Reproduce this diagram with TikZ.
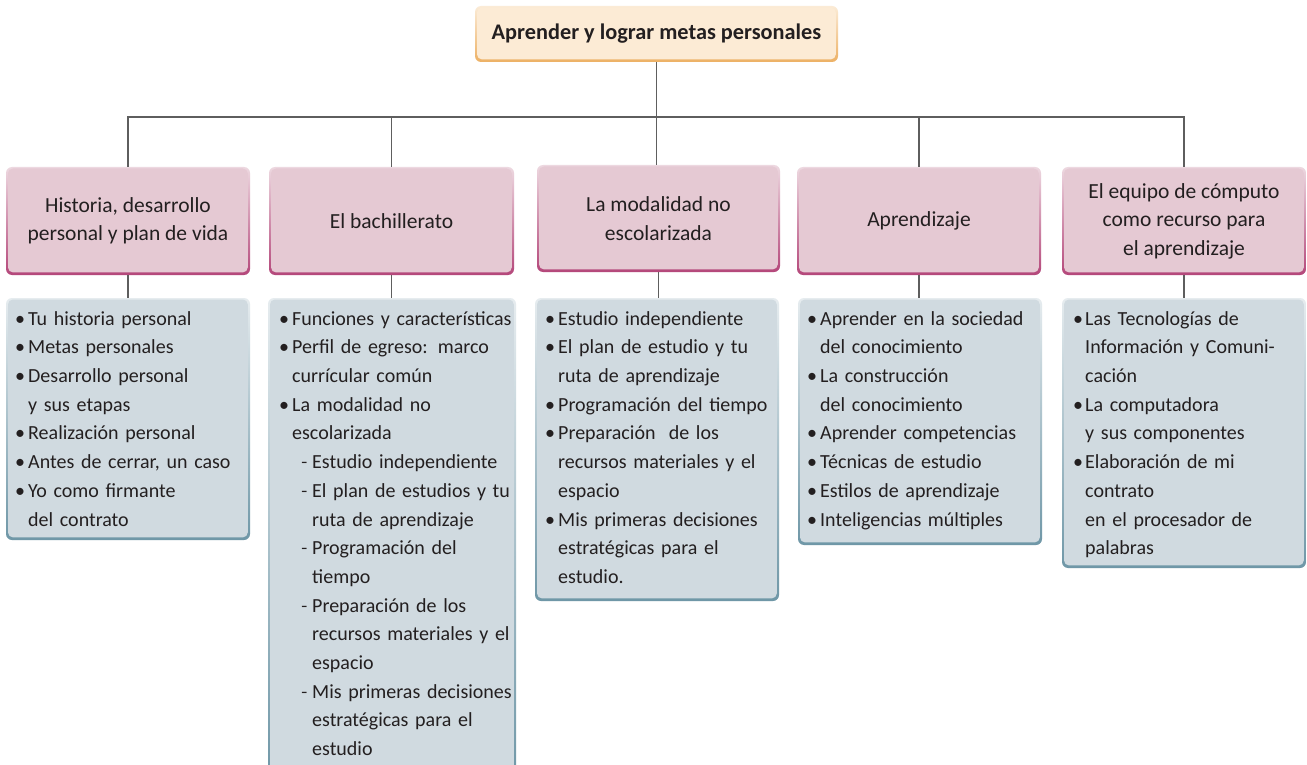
\documentclass[tikz,border=0pt]{standalone}
\usepackage{fontspec}
\setmainfont{Carlito}
\usetikzlibrary{calc}
\definecolor{pinkF}{HTML}{E5C9D3}
\definecolor{pinkT}{HTML}{EDD8E0}
\definecolor{pinkB}{HTML}{B4477A}
\definecolor{blueF}{HTML}{D0DAE0}
\definecolor{blueT}{HTML}{E6ECEF}
\definecolor{blueB}{HTML}{6F97A7}
\definecolor{titF}{HTML}{FCEBD5}
\definecolor{titT}{HTML}{FBEBD6}
\definecolor{titB}{HTML}{EDB165}
\definecolor{txt}{HTML}{231F20}
\definecolor{lineC}{HTML}{5E5E5E}
\newcommand\bxb[2][13pt]{\strut\makebox[#1][l]{•}#2}
\newcommand\bxc[2][13pt]{\strut\hspace*{#1}#2}
\newcommand\bxd[1]{\strut\hspace*{22pt}\makebox[11pt][l]{\scalebox{0.65}[1]{–}}#1}
\newcommand\bxe[1]{\strut\hspace*{33pt}#1}
\tikzset{
  framed/.style n args={3}{rounded corners=6pt, top color=#1, bottom color=#2, inner sep=0pt,
    path picture={\fill[#3, rounded corners=5pt]
      ([shift={(2pt,-1.5pt)}]path picture bounding box.north west) rectangle
      ([shift={(-2.2pt,2.6pt)}]path picture bounding box.south east);}},
  titlebox/.style={framed={titT}{titB}{titF}, text=txt, font=\fontsize{22.3}{26}\selectfont\bfseries},
  headbox/.style={framed={pinkT}{pinkB}{pinkF}, text=txt, align=center,
    font=\fontsize{21.5}{28.5}\selectfont},
  listbox/.style={framed={blueT}{blueB}{blueF}},
  listtext/.style={anchor=north west, inner sep=0pt, text width=240pt, align=left, text=txt,
    font=\fontsize{20}{28.7}\selectfont},
  conn/.style={draw=lineC, line width=1.8pt},
}
\begin{document}
\begin{tikzpicture}[x=1pt,y=-1pt]
\clip (0,0) rectangle (1307,765);
\fill[white] (0,0) rectangle (1307,765);

\coordinate (bus) at (0,117);

\node[titlebox, minimum width=363pt, minimum height=56pt] (t) at (656.5,34) {Aprender y lograr metas personales};

\node[headbox, minimum width=244pt, minimum height=108pt] (p1) at (128,221) {Historia, desarrollo\\personal y plan de vida};
\node[headbox, minimum width=245pt, minimum height=108pt] (p2) at (391.5,221) {El bachillerato};
\node[headbox, minimum width=243pt, minimum height=107pt] (p3) at (658.5,218.5) {La modalidad no\\escolarizada};
\node[headbox, minimum width=244pt, minimum height=108pt] (p4) at (919,221) {Aprendizaje};
\node[headbox, minimum width=244pt, minimum height=108pt] (p5) at (1184,221) {El equipo de cómputo\\como recurso para\\el aprendizaje};

\node[listbox, minimum width=244pt, minimum height=242pt] (b1) at (128,419) {};
\node[listbox, minimum width=248pt, minimum height=482pt] (b2) at (392,539) {};
\node[listbox, minimum width=244pt, minimum height=303pt] (b3) at (657,449.5) {};
\node[listbox, minimum width=244pt, minimum height=247pt] (b4) at (920,421.5) {};
\node[listbox, minimum width=244pt, minimum height=270pt] (b5) at (1184,433) {};

\draw[conn] (t.south) -- (t.south |- p3.north);
\draw[conn] (p1.north) -- (p1.north |- bus) -- (p5.north |- bus) -- (p5.north);
\draw[conn] (p2.north) -- (p2.north |- bus);
\draw[conn] (p4.north) -- (p4.north |- bus);
\draw[conn] (p1.south) -- (p1.south |- b1.north);
\draw[conn] (p2.south) -- (p2.south |- b2.north);
\draw[conn] (p3.south) -- (p3.south |- b3.north);
\draw[conn] (p4.south) -- (p4.south |- b4.north);
\draw[conn] (p5.south) -- (p5.south |- b5.north);

\node[listtext] (l1) at (15,304.9) {%
\bxb{Tu historia personal}\\
\bxb{Metas personales}\\
\bxb{Desarrollo personal}\\
\bxc{y sus etapas}\\
\bxb{Realización personal}\\
\bxb{Antes de cerrar, un caso}\\
\bxb{Yo como firmante}\\
\bxc{del contrato}};

\node[listtext] (l2) at (279,304.9) {%
\bxb{Funciones y características}\\
\bxb{Perfil de egreso: marco}\\
\bxc{currícular común}\\
\bxb{La modalidad no}\\
\bxc{escolarizada}\\
\bxd{Estudio independiente}\\
\bxd{El plan de estudios y tu}\\
\bxe{ruta de aprendizaje}\\
\bxd{Programación del}\\
\bxe{tiempo}\\
\bxd{Preparación de los}\\
\bxe{recursos materiales y el}\\
\bxe{espacio}\\
\bxd{Mis primeras decisiones}\\
\bxe{estratégicas para el}\\
\bxe{estudio}};

\node[listtext] (l3) at (545,304.9) {%
\bxb{Estudio independiente}\\
\bxb{El plan de estudio y tu}\\
\bxc{ruta de aprendizaje}\\
\bxb{Programación del tiempo}\\
\bxb{Preparación\ \ de los}\\
\bxc{recursos materiales y el}\\
\bxc{espacio}\\
\bxb{Mis primeras decisiones}\\
\bxc{estratégicas para el}\\
\bxc{estudio.}};

\node[listtext] (l4) at (807,304.9) {%
\bxb{Aprender en la sociedad}\\
\bxc{del conocimiento}\\
\bxb{La construcción}\\
\bxc{del conocimiento}\\
\bxb{Aprender competencias}\\
\bxb{Técnicas de estudio}\\
\bxb{Estilos de aprendizaje}\\
\bxb{Inteligencias múltiples}};

\node[listtext] (l5) at (1073,304.9) {%
\bxb[12pt]{Las Tecnologías de}\\
\bxc[12pt]{Información y Comuni-}\\
\bxc[12pt]{cación}\\
\bxb[12pt]{La computadora}\\
\bxc[12pt]{y sus componentes}\\
\bxb[12pt]{Elaboración de mi}\\
\bxc[12pt]{contrato}\\
\bxc[12pt]{en el procesador de}\\
\bxc[12pt]{palabras}};
\end{tikzpicture}
\end{document}
